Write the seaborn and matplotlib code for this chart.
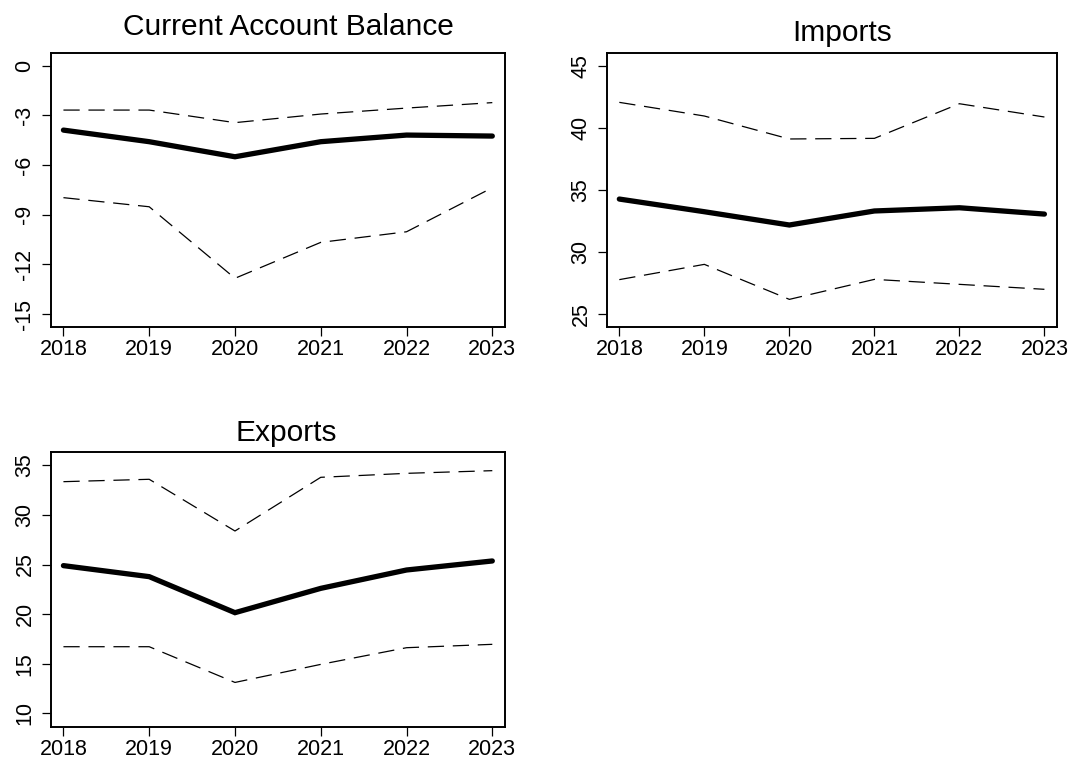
import numpy as np
import pandas as pd
import matplotlib
matplotlib.use("Agg")
import matplotlib.pyplot as plt
import seaborn as sns

# Forecast fan: central projection with lower/upper bounds, % of GDP
years = [2018, 2019, 2020, 2021, 2022, 2023]

cab_mid = [-3.89, -4.59, -5.50, -4.59, -4.19, -4.25]
cab_upper = [-2.68, -2.68, -3.44, -2.92, -2.56, -2.23]
cab_lower = [-7.97, -8.52, -12.84, -10.67, -10.03, -7.37]

imp_mid = [34.26, 33.24, 32.17, 33.30, 33.56, 33.05]
imp_upper = [42.05, 40.95, 39.10, 39.15, 41.94, 40.87]
imp_lower = [27.77, 29.00, 26.18, 27.79, 27.39, 26.99]

exp_mid = [24.89, 23.78, 20.15, 22.60, 24.45, 25.36]
exp_upper = [33.35, 33.59, 28.38, 33.79, 34.19, 34.46]
exp_lower = [16.72, 16.72, 13.12, 14.94, 16.62, 16.96]

titles = ["Current Account Balance", "Imports", "Exports"]
y_ticks = [
    [0, -3, -6, -9, -12, -15],
    [25, 30, 35, 40, 45],
    [10, 15, 20, 25, 30, 35],
]
y_limits = [(-15.8, 0.785), (23.93, 46.05), (8.66, 36.31)]

sns.set_style("ticks")
plt.rcParams["font.family"] = ["Liberation Sans", "DejaVu Sans"]

W, H = 1088, 758
fig = plt.figure(figsize=(W / 100, H / 100), dpi=100)


def px_axes(left, right, top, bottom):
    return fig.add_axes([left / W, 1 - bottom / H, (right - left) / W, (bottom - top) / H])


boxes = [
    (51, 505, 52.7, 327.3),
    (607, 1057, 52.7, 327.3),
    (51, 505, 452.3, 726.7),
]
title_pos = [(288, 35), (842, 40.7), (286, 440.7)]

series = [
    (cab_mid, cab_upper, cab_lower),
    (imp_mid, imp_upper, imp_lower),
    (exp_mid, exp_upper, exp_lower),
]

for i, (mid, upper, lower) in enumerate(series):
    ax = px_axes(*boxes[i])
    df = pd.DataFrame({
        "year": years * 3,
        "value": list(mid) + list(upper) + list(lower),
        "band": ["mid"] * 6 + ["upper"] * 6 + ["lower"] * 6,
    })
    sns.lineplot(data=df[df.band == "mid"], x="year", y="value",
                 color="black", linewidth=3.8, ax=ax, solid_joinstyle="miter")
    for b in ["upper", "lower"]:
        sns.lineplot(data=df[df.band == b], x="year", y="value",
                     color="black", linewidth=0.9, ax=ax,
                     dashes=False, linestyle=(0, (13, 7)))
    ax.set_xlim(2017.855, 2023.148)
    ax.set_ylim(*y_limits[i])
    ax.set_xticks(years)
    ax.set_xticklabels([str(y) for y in years])
    ax.set_yticks(y_ticks[i])
    ax.set_yticklabels([str(t) for t in y_ticks[i]], rotation=90, va="center")
    ax.set_xlabel("")
    ax.set_ylabel("")
    ax.tick_params(axis="both", which="major", direction="out", length=6.2,
                   width=0.9, color="black", labelsize=15.5, labelcolor="black",
                   bottom=True, left=True, top=False, right=False)
    ax.tick_params(axis="x", pad=2.5)
    ax.tick_params(axis="y", pad=5)
    for s in ax.spines.values():
        s.set_visible(True)
        s.set_color("black")
        s.set_linewidth(1.4)
    ax.grid(False)
    fig.text(title_pos[i][0] / W, 1 - title_pos[i][1] / H, titles[i],
             ha="center", va="baseline", fontsize=21.5, color="black")

fig.savefig("out.png", dpi=100, facecolor="white")
